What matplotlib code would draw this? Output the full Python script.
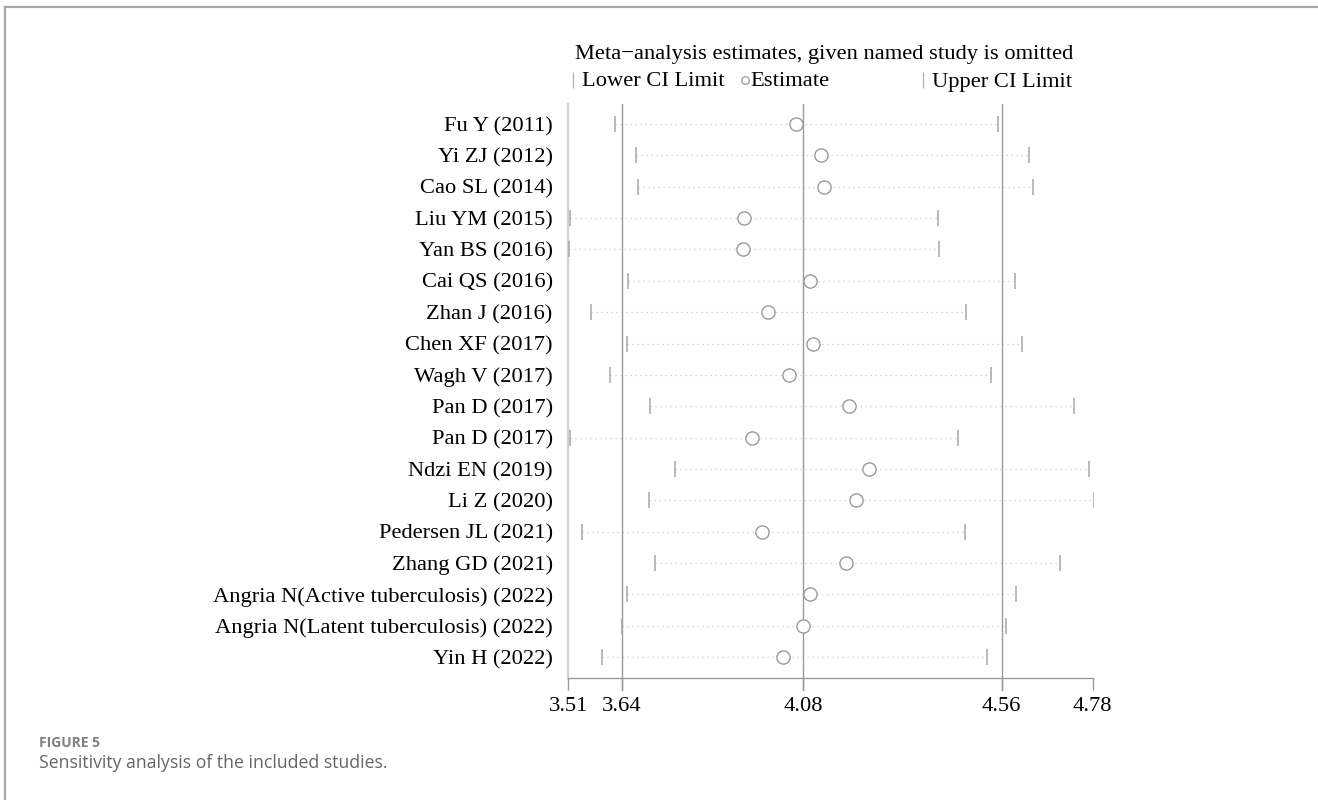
import matplotlib
matplotlib.use("Agg")
import matplotlib.pyplot as plt
from matplotlib.lines import Line2D

# studies and the leave-one-out estimates
studies = [
    "Fu Y (2011)", "Yi ZJ (2012)", "Cao SL (2014)", "Liu YM (2015)",
    "Yan BS (2016)", "Cai QS (2016)", "Zhan J (2016)", "Chen XF (2017)",
    "Wagh V (2017)", "Pan D (2017)", "Pan D (2017)", "Ndzi EN (2019)",
    "Li Z (2020)", "Pedersen JL (2021)", "Zhang GD (2021)",
    "Angria N(Active tuberculosis) (2022)",
    "Angria N(Latent tuberculosis) (2022)", "Yin H (2022)",
]
estimate = [4.061, 4.122, 4.131, 3.935, 3.934, 4.096, 3.994, 4.104, 4.046,
            4.191, 3.956, 4.240, 4.208, 3.980, 4.182, 4.097, 4.078, 4.031]
lower_ci = [3.625, 3.674, 3.680, 3.514, 3.512, 3.655, 3.566, 3.654, 3.612,
            3.708, 3.514, 3.768, 3.705, 3.543, 3.721, 3.654, 3.640, 3.592]
upper_ci = [4.552, 4.627, 4.637, 4.407, 4.408, 4.592, 4.474, 4.610, 4.534,
            4.735, 4.455, 4.771, 4.783, 4.472, 4.702, 4.594, 4.571, 4.525]

# overall estimate and CI, plus the axis ends
ref_lines = [3.64, 4.08, 4.56]
xticks = [3.51, 3.64, 4.08, 4.56, 4.78]
xtick_labels = ["3.51", "3.64", "4.08", "4.56", "4.78"]

serif = "Liberation Serif"
fs = 16.2
W, H = 1318, 800
fig = plt.figure(figsize=(W / 100, H / 100), dpi=100)
ax = fig.add_axes([568 / W, 1 - 678 / H, 524.5 / W, (678 - 104) / H])

ypos = list(range(1, len(studies) + 1))

for y, lo, hi in zip(ypos, lower_ci, upper_ci):
    ax.plot([lo, hi], [y, y], ls=(0, (1, 3)), color="#c8c8c8", lw=0.9, zorder=1)

for xv in ref_lines:
    ax.axvline(xv, color="#9a9a9a", lw=1.0, zorder=2)
    ax.plot([xv, xv], [18.67, 19.05], color="#9a9a9a", lw=1.0, clip_on=False)

ax.plot(lower_ci, ypos, ls="none", marker="|", ms=11, mew=1.1, color="#a8a8a8", zorder=3)
ax.plot(upper_ci, ypos, ls="none", marker="|", ms=11, mew=1.1, color="#a8a8a8", zorder=3)
ax.plot(estimate, ypos, ls="none", marker="o", ms=9.5, mfc="white", mec="#9a9a9a",
        mew=1.0, zorder=4)

ax.set_xlim(3.51, 4.78)
ax.set_ylim(18.67, 0.36)
ax.set_yticks(ypos)
ax.set_yticklabels(studies, fontfamily=serif, fontsize=fs)
ax.tick_params(axis="y", length=0, pad=11)
ax.set_xticks(xticks)
ax.set_xticklabels(xtick_labels, fontfamily=serif, fontsize=fs)
ax.tick_params(axis="x", length=8.5, width=1.0, color="#9a9a9a", pad=5)

for s in ["top", "right"]:
    ax.spines[s].set_visible(False)
ax.spines["left"].set_color("#d0d0d0")
ax.spines["left"].set_linewidth(1.6)
ax.spines["bottom"].set_color("#9a9a9a")
ax.spines["bottom"].set_linewidth(1.0)

# title and legend row
fig.text(824 / W, 1 - 55 / H, "Meta\u2212analysis estimates, given named study is omitted",
         ha="center", va="center", fontfamily=serif, fontsize=fs)
leg_y = 1 - 80 / H
txt_y = 1 - 82 / H
fig.add_artist(Line2D([572.5 / W], [leg_y], marker="|", ms=12, mew=0.9, color="#b0b0b0",
                      transform=fig.transFigure))
fig.text(582 / W, txt_y, "Lower CI Limit", ha="left", va="center", fontfamily=serif, fontsize=fs)
fig.add_artist(Line2D([745 / W], [leg_y], marker="o", ms=5.5, mfc="white", mec="#9a9a9a",
                      mew=0.9, transform=fig.transFigure))
fig.text(750 / W, txt_y, "Estimate", ha="left", va="center", fontfamily=serif, fontsize=fs)
fig.add_artist(Line2D([923 / W], [leg_y], marker="|", ms=12, mew=0.9, color="#b0b0b0",
                      transform=fig.transFigure))
fig.text(932 / W, txt_y, "Upper CI Limit", ha="left", va="center", fontfamily=serif, fontsize=fs)

# page frame (top and left edges)
fig.add_artist(Line2D([4.5 / W, 1], [1 - 6.5 / H, 1 - 6.5 / H], color="#a8a8a8", lw=1.6,
                      transform=fig.transFigure))
fig.add_artist(Line2D([4.5 / W, 4.5 / W], [1 - 6.5 / H, 0], color="#a8a8a8", lw=1.6,
                      transform=fig.transFigure))

# caption
fig.text(39 / W, 1 - 743 / H, "FIGURE 5", ha="left", va="center", fontfamily="Open Sans",
         fontweight="bold", fontsize=10, color="#808080")
fig.text(39 / W, 1 - 763 / H, "Sensitivity analysis of the included studies.", ha="left",
         va="center", fontfamily="Open Sans", fontsize=12.7, color="#666666")

fig.savefig("out.png", dpi=100)
